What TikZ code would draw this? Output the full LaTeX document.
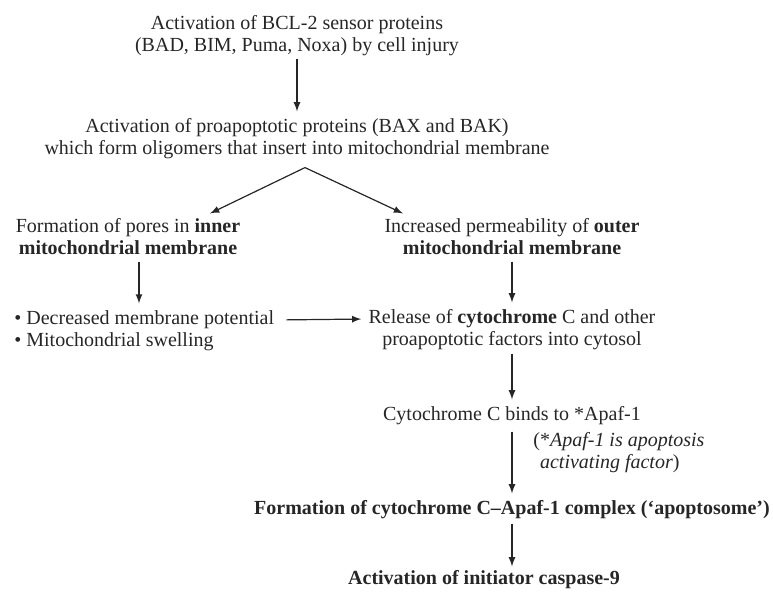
\documentclass[tikz,border=0pt]{standalone}
\usepackage{fontspec}
\setmainfont{Liberation Serif}
\usetikzlibrary{positioning}

\tikzset{
  txt/.style={align=center, inner sep=0pt, font=\fontsize{10}{11}\selectfont, text=black!85},
  lefttxt/.style={txt, align=left},
  boldtxt/.style={txt, font=\fontsize{10}{11}\selectfont\bfseries},
  flow/.style={->, line width=0.6pt, draw=black!85, shorten <=3pt, shorten >=3.5pt},
}

\begin{document}
\begin{tikzpicture}[x=0.5pt,y=-0.5pt,>=latex]
 \useasboundingbox (0,0) rectangle (773,592);

 \node[txt] (sensor) at (297,36) {Activation of BCL-2 sensor proteins\\(BAD, BIM, Puma, Noxa) by cell injury};
 \node[txt] (bax) at (297,139) {Activation of proapoptotic proteins (BAX and BAK)\\which form oligomers that insert into mitochondrial membrane};
 \draw[flow, shorten <=1pt] (sensor) -- (bax);

 % two branches out of the oligomer step
 \node[txt] (pores) at (128,237) {Formation of pores in \textbf{inner}\\\textbf{mitochondrial membrane}};
 \node[txt] (perm) at (512,237) {Increased permeability of \textbf{outer}\\\textbf{mitochondrial membrane}};
 \coordinate (split) at ([xshift=4pt,yshift=-4pt]bax.south);
 \draw[->, line width=0.6pt, draw=black!85] (split) -- ([xshift=41pt,yshift=2.5pt]pores.north);
 \draw[->, line width=0.6pt, draw=black!85] (split) -- ([xshift=-54.5pt,yshift=2.5pt]perm.north);

 \node[lefttxt, anchor=west] (bullets) at (14,331) {\textbullet\ Decreased membrane potential\\\textbullet\ Mitochondrial swelling};
 \node[txt] (release) at (512,330) {Release of \textbf{cytochrome} C and other\\proapoptotic factors into cytosol};
 \draw[flow] ([xshift=5.5pt]pores.south) -- ([xshift=5.5pt]pores.south |- bullets.north);
 \draw[flow] (perm) -- (release);
 \draw[flow, shorten <=6pt] ([yshift=5.5pt]bullets.east) -- ([yshift=5.5pt]release.west);

 \node[txt] (binds) at (512,416) {Cytochrome C binds to *Apaf-1};
 \node[lefttxt, anchor=north west] (note) at (533,432) {(*\textit{Apaf-1 is apoptosis}\\\phantom{(}\textit{activating factor})};
 \draw[flow, shorten <=1.5pt] (release) -- (binds);

 \node[boldtxt] (complex) at (512,510) {Formation of cytochrome C--Apaf-1 complex (`apoptosome')};
 \node[boldtxt] (casp) at (484,580) {Activation of initiator caspase-9};
 \draw[flow] (binds) -- (complex);
 \draw[flow, shorten <=2pt, shorten >=2pt] (complex) -- (complex |- casp.north);
\end{tikzpicture}
\end{document}
